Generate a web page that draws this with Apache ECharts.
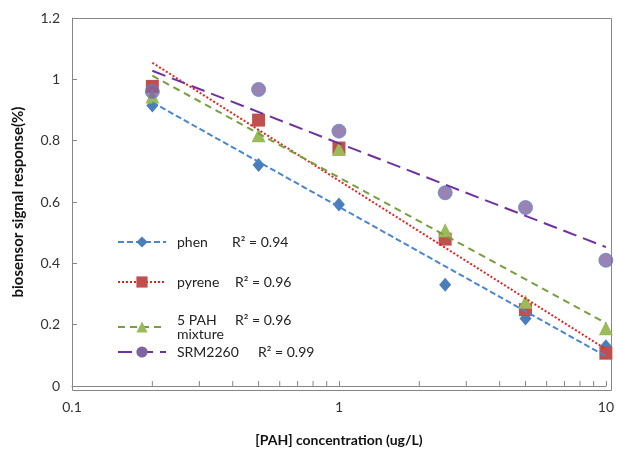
<!DOCTYPE html>
<html>
<head>
<meta charset="utf-8">
<script src="https://cdn.jsdelivr.net/npm/echarts@6/dist/echarts.min.js"></script>
<style>
  html, body { margin: 0; padding: 0; background: #fff; }
  #chart { width: 617px; height: 452px; }
</style>
</head>
<body>
<div id="chart"></div>
<script>
// 浓度 (ug/L)
var conc = [0.2, 0.5, 1, 2.5, 5, 10];
// 各系列响应值
var phen = [0.915, 0.721, 0.592, 0.33, 0.22, 0.13];
var pyrene = [0.977, 0.867, 0.776, 0.479, 0.249, 0.107];
var pahMix = [0.944, 0.818, 0.773, 0.508, 0.275, 0.188];
var srm2260 = [0.96, 0.967, 0.831, 0.63, 0.582, 0.41];
// 趋势线两端 (x=0.2 与 x=10)
var trendX = [0.2, 10];
var phenTrend = [0.925, 0.097];
var pyreneTrend = [1.054, 0.12];
var pahMixTrend = [1.012, 0.205];
var srmTrend = [1.028, 0.453];
var r2 = ['0.94', '0.96', '0.96', '0.99'];
// 对数轴次刻度
var minorTicks = [0.2, 0.3, 0.4, 0.5, 0.6, 0.7, 0.8, 0.9, 2, 3, 4, 5, 6, 7, 8, 9];

function pairs(xs, ys) {
	return xs.map(function(x, i) { return [x, ys[i]]; });
}

var axisColor = '#868686';
var font = 'Lato';
var gridPos = { left: 72, right: 6, top: 18, bottom: 62 };

var chart = echarts.init(document.getElementById('chart'));

function trendSeries(name, ys, lineColor, markerColor, dash, symbol) {
	return {
		name: name,
		type: 'line',
		data: pairs(trendX, ys),
		symbol: symbol,
		showSymbol: false,
		silent: true,
		itemStyle: { color: markerColor },
		lineStyle: { color: lineColor, width: 2, type: dash },
		z: 3
	};
}
function pointSeries(name, ys, color, symbol, size, border) {
	return {
		name: name,
		type: 'scatter',
		data: pairs(conc, ys),
		symbol: symbol,
		symbolSize: size,
		itemStyle: border ? { color: color, borderColor: border, borderWidth: 1 } : { color: color, opacity: 1 },
		z: 2
	};
}
function legendItem(name, top, nameWidth, text) {
	return {
		data: [name],
		left: 112,
		top: top,
		orient: 'vertical',
		itemWidth: 48,
		itemHeight: 14,
		selectedMode: false,
		formatter: function() { return text; },
		textStyle: {
			fontFamily: font,
			fontSize: 14,
			color: '#222',
			rich: {
				n: { fontFamily: font, fontSize: 14, color: '#222', width: nameWidth, padding: [0, 0, 0, 6] },
				r: { fontFamily: font, fontSize: 14, color: '#222' }
			}
		}
	};
}

var W = 617, H = 452;

var option = {
	animation: false,
	grid: gridPos,
	// 绘图区边框
	graphic: [{
		type: 'rect',
		silent: true,
		z: 0,
		shape: {
			x: gridPos.left + 0.5,
			y: gridPos.top + 0.5,
			width: W - gridPos.left - gridPos.right,
			height: H - gridPos.top - gridPos.bottom
		},
		style: { fill: 'transparent', stroke: axisColor, lineWidth: 1 }
	}],
	legend: [
		legendItem('phen', 230, 55, '{n|phen}{r|R\u00b2 = ' + r2[0] + '}'),
		legendItem('pyrene', 270, 58, '{n|pyrene}{r|R\u00b2 = ' + r2[1] + '}'),
		legendItem('5 PAH mixture', 308, 58, '{n|5 PAH}{r|R\u00b2 = ' + r2[2] + '}\n{n|mixture}'),
		legendItem('SRM2260', 340, 81, '{n|SRM2260}{r|R\u00b2 = ' + r2[3] + '}')
	],
	xAxis: {
		type: 'log',
		logBase: 10,
		min: 0.1,
		max: 10,
		name: '[PAH] concentration (ug/L)',
		nameLocation: 'middle',
		nameGap: 47,
		nameTextStyle: { fontFamily: font, fontSize: 14, fontWeight: 'bold', color: '#111' },
		axisLine: { onZero: false, lineStyle: { color: axisColor } },
		axisTick: { inside: true, length: 5, lineStyle: { color: axisColor } },
		axisLabel: { fontFamily: font, fontSize: 14, color: '#333', margin: 14 },
		splitLine: { show: false }
	},
	yAxis: {
		type: 'value',
		min: 0,
		max: 1.2,
		interval: 0.2,
		name: 'biosensor signal response(%)',
		nameLocation: 'middle',
		nameGap: 46,
		nameTextStyle: { fontFamily: font, fontSize: 15, fontWeight: 'bold', color: '#111' },
		axisLine: { show: true, onZero: false, lineStyle: { color: axisColor } },
		axisTick: { show: true, inside: true, length: 5, lineStyle: { color: axisColor } },
		axisLabel: { fontFamily: font, fontSize: 14, color: '#333', margin: 12 },
		splitLine: { show: false }
	},
	series: [
		trendSeries('phen', phenTrend, '#4a86d0', '#4a7ebb', [6, 3], 'diamond'),
		trendSeries('pyrene', pyreneTrend, '#e8231f', '#c0504d', [2, 2], 'rect'),
		trendSeries('5 PAH mixture', pahMixTrend, '#76a03c', '#9bbb59', [7, 5], 'triangle'),
		trendSeries('SRM2260', srmTrend, '#7030a0', '#8064a2', [14, 7], 'circle'),
		pointSeries('phen', phen, '#4a7ebb', 'diamond', [12, 14]),
		pointSeries('pyrene', pyrene, '#c0504d', 'rect', 13),
		pointSeries('5 PAH mixture', pahMix, '#9bbb59', 'triangle', 14),
		pointSeries('SRM2260', srm2260, '#8064a2', 'circle', 14, '#5b8bd0'),
		{
			// 次刻度
			type: 'custom',
			silent: true,
			data: minorTicks.map(function(v) { return [v, 0]; }),
			renderItem: function(params, api) {
				var p = api.coord([api.value(0), api.value(1)]);
				return {
					type: 'line',
					shape: { x1: p[0], y1: p[1], x2: p[0], y2: p[1] - 5 },
					style: { stroke: axisColor, lineWidth: 1 }
				};
			},
			z: 1
		}
	]
};
chart.setOption(option);
</script>
</body>
</html>
